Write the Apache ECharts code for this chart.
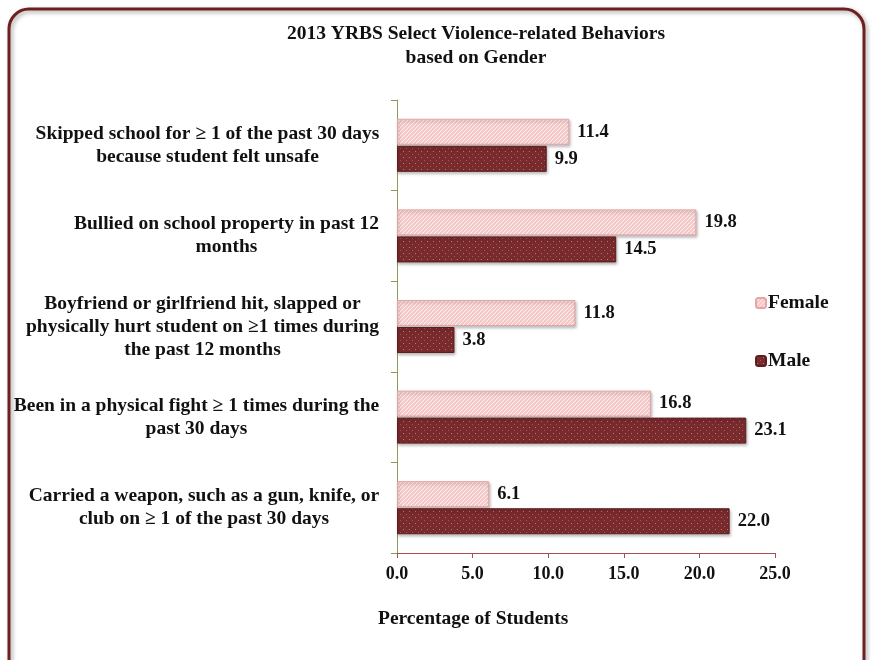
<!DOCTYPE html>
<html>
<head>
<meta charset="utf-8">
<script src="https://cdn.jsdelivr.net/npm/echarts@6/dist/echarts.min.js"></script>
<style>html,body{margin:0;padding:0;background:#fff;}#c{width:871px;height:660px;}</style>
</head>
<body>
<div id="c"></div>
<script>
var categories = [
  "Skipped school for \u2265 1 of the past 30 days\nbecause student felt unsafe",
  "Bullied on school property in past 12\nmonths",
  "Boyfriend or girlfriend hit, slapped or\nphysically hurt student on \u22651 times during\nthe past 12 months",
  "Been in a physical fight \u2265 1 times during the\npast 30 days",
  "Carried a weapon, such as a gun, knife, or\nclub on \u2265 1 of the past 30 days"
];
var female = [11.4, 19.8, 11.8, 16.8, 6.1];
var male = [9.9, 14.5, 3.8, 23.1, 22.0];
var xTicks = [0, 5, 10, 15, 20, 25];

var FONT = "'Liberation Serif', 'Times New Roman', serif";
var CAT_SIZE = 19.5;
var ctx = document.createElement('canvas').getContext('2d');
ctx.font = "bold " + CAT_SIZE + "px " + FONT;
var rich = {};
var catIndex = {};
categories.forEach(function (c, i) {
  var lines = c.split('\n');
  var w = 0;
  lines.forEach(function (l) { w = Math.max(w, ctx.measureText(l).width); });
  rich['c' + i] = { width: Math.ceil(w) + 1, align: 'center', fontFamily: FONT, fontWeight: 'bold', fontSize: CAT_SIZE, lineHeight: 23, color: '#111' };
  catIndex[c] = i;
});

// texture patterns
function hatch() {
  var c = document.createElement('canvas'); c.width = 4; c.height = 4;
  var g = c.getContext('2d');
  g.fillStyle = '#f3c9c9'; g.fillRect(0, 0, 4, 4);
  g.fillStyle = '#fdf0f0';
  for (var i = 0; i < 4; i++) { g.fillRect(i, 3 - i, 1, 1); }
  return c;
}
function dots() {
  var c = document.createElement('canvas'); c.width = 6; c.height = 6;
  var g = c.getContext('2d');
  g.fillStyle = '#782a2c'; g.fillRect(0, 0, 6, 6);
  g.fillStyle = '#b9797a'; g.fillRect(1, 1, 1, 1);
  g.fillStyle = '#a05a5b'; g.fillRect(4, 4, 1, 1);
  return c;
}
var femaleFill = { image: hatch(), repeat: 'repeat' };
var maleFill = { image: dots(), repeat: 'repeat' };

var chart = echarts.init(document.getElementById('c'));
chart.setOption({
  backgroundColor: '#fff',
  animation: false,
  color: ['#f1c0c0', '#782a2c'],
  title: {
    text: '2013 YRBS Select Violence-related Behaviors\nbased on Gender',
    left: 471, top: 17, textAlign: 'center',
    textStyle: { fontFamily: FONT, fontWeight: 'bold', fontSize: 19.5, lineHeight: 24, color: '#111' }
  },
  legend: {
    orient: 'vertical', left: 750, top: 288, itemGap: 38,
    itemWidth: 10, itemHeight: 10,
    data: ['Female', 'Male'],
    textStyle: { fontFamily: FONT, fontWeight: 'bold', fontSize: 19.5, color: '#111', padding: [0, 0, 0, -3] }
  },
  grid: { left: 397, right: 96, top: 100, bottom: 107 },
  xAxis: {
    type: 'value', min: 0, max: 25, interval: 5,
    axisLine: { show: true, lineStyle: { color: '#a85050', width: 1 } },
    axisTick: { show: true, length: 5, lineStyle: { color: '#a85050' } },
    splitLine: { show: false },
    axisLabel: {
      margin: 12, fontFamily: FONT, fontWeight: 'bold', fontSize: 18, color: '#111',
      formatter: function (v) { return xTicks.indexOf(v) >= 0 ? v.toFixed(1) : ''; }
    }
  },
  yAxis: {
    type: 'category', inverse: true, data: categories,
    axisLine: { show: true, lineStyle: { color: '#8a9a5b', width: 1 } },
    axisTick: { show: true, length: 6, lineStyle: { color: '#8a9a5b' } },
    axisLabel: {
      margin: 17, fontFamily: FONT, fontWeight: 'bold', fontSize: CAT_SIZE, lineHeight: 23, color: '#111',
      formatter: function (v) {
        var i = catIndex[v];
        return v.split('\n').map(function (l) { return '{c' + i + '|' + l + '}'; }).join('\n');
      },
      rich: rich
    }
  },
  series: [
    {
      name: 'Female', type: 'bar', data: female, barWidth: 26, barGap: '4%',
      itemStyle: {
        color: femaleFill, borderColor: '#e8a3a3', borderWidth: 1,
        shadowColor: 'rgba(0,0,0,0.25)', shadowBlur: 3, shadowOffsetX: 1, shadowOffsetY: 2
      },
      label: { show: true, position: 'right', distance: 8, formatter: function (p) { return p.value.toFixed(1); },
        fontFamily: FONT, fontWeight: 'bold', fontSize: 18.5, color: '#111' }
    },
    {
      name: 'Male', type: 'bar', data: male, barWidth: 26,
      itemStyle: {
        color: maleFill, borderColor: '#5e1c1e', borderWidth: 1,
        shadowColor: 'rgba(0,0,0,0.25)', shadowBlur: 3, shadowOffsetX: 1, shadowOffsetY: 2
      },
      label: { show: true, position: 'right', distance: 8, formatter: function (p) { return p.value.toFixed(1); },
        fontFamily: FONT, fontWeight: 'bold', fontSize: 18.5, color: '#111' }
    }
  ],
  graphic: [
    {
      type: 'rect', z: -1, silent: true,
      shape: { x: 9, y: 9, width: 855, height: 672, r: 20 },
      style: { fill: 'none', stroke: '#6e2020', lineWidth: 3, shadowColor: 'rgba(0,0,0,0.35)', shadowBlur: 4, shadowOffsetX: 2, shadowOffsetY: 2 }
    },
    {
      type: 'text', left: 378, top: 609,
      style: { text: 'Percentage of Students', fontFamily: FONT, fontWeight: 'bold', fontSize: 19.5, fill: '#111' }
    }
  ]
});
</script>
</body>
</html>
